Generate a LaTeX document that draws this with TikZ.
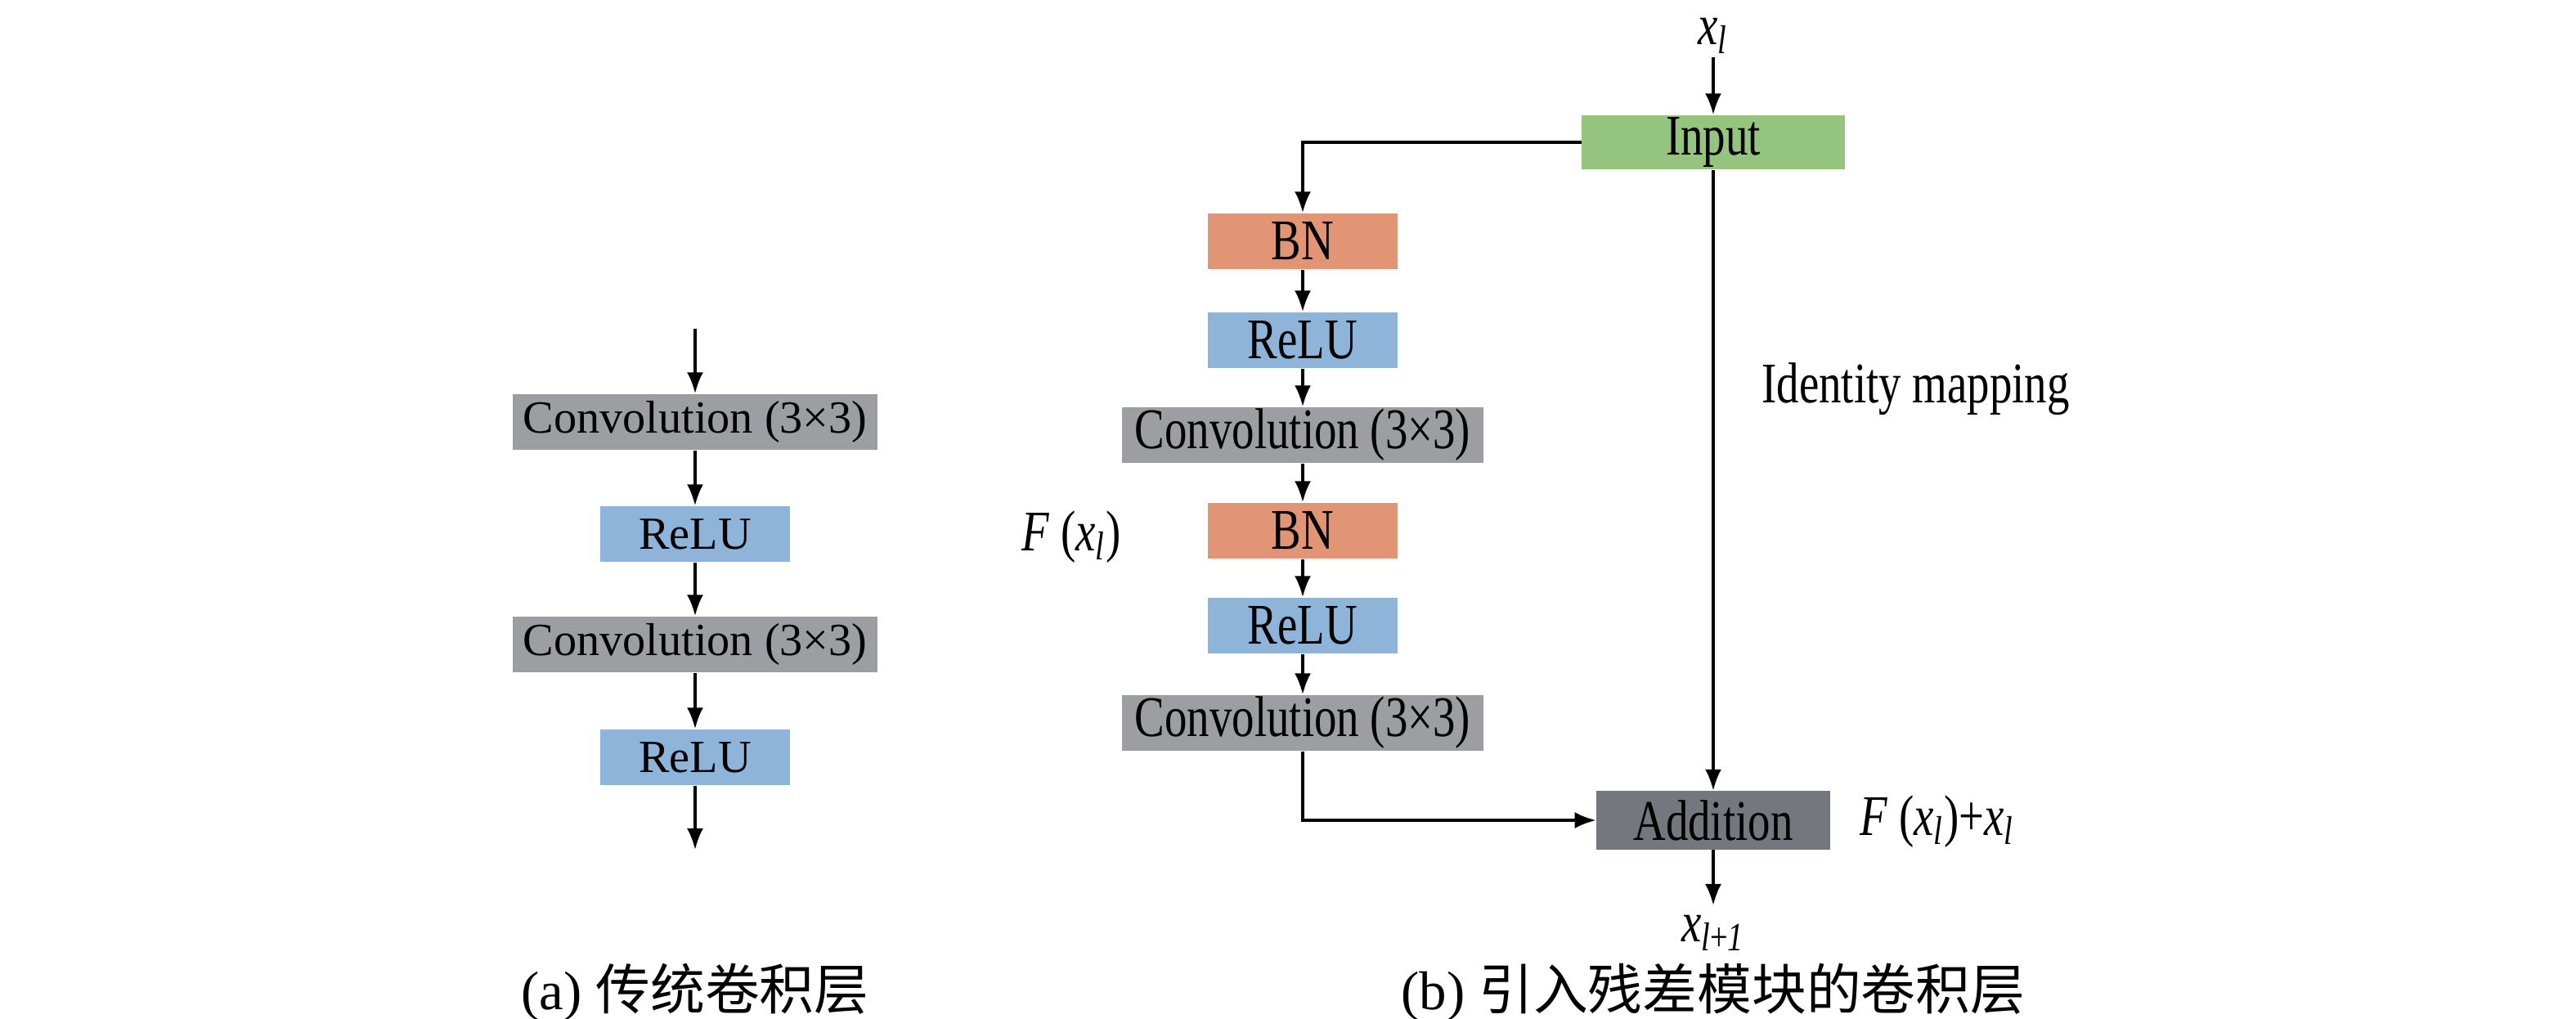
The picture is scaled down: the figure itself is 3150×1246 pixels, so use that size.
\documentclass[tikz,border=0pt]{standalone}
\usepackage{fontspec}
\setmainfont{Liberation Serif}
\newfontfamily\narrowserif[FakeStretch=0.78]{Liberation Serif}
\newfontfamily\cjkfont{Noto Sans CJK SC}
\usetikzlibrary{arrows.meta}
\definecolor{convgray}{HTML}{9D9EA2}
\definecolor{relublue}{HTML}{8FB4D9}
\definecolor{bnorange}{HTML}{E29575}
\definecolor{inputgreen}{HTML}{94C47D}
\definecolor{addgray}{HTML}{74777E}
\tikzset{
  layer/.style={fill=#1, inner sep=0pt, minimum height=0.68cm},
  wide/.style={minimum width=4.45cm},
  narrow/.style={minimum width=2.31cm},
  flow/.style={line width=1pt, -{Latex[length=2.6mm, width=2mm]}},
  plain/.style={font=\fontsize{16}{19}\selectfont},
  lbl/.style={font=\fontsize{20}{24}\selectfont\narrowserif}
}
\begin{document}
\begin{tikzpicture}[x=0.01cm, y=-0.01cm]
\useasboundingbox (0,0) rectangle (3150,1246);

% (a) plain stack
\coordinate (ain) at (850,402);
\coordinate (aout) at (850,1039);
\node[layer=convgray, wide, plain] (aconva) at (850,516) {Convolution (3×3)};
\node[layer=relublue, narrow, plain] (arelua) at (850,653) {ReLU};
\node[layer=convgray, wide, plain] (aconvb) at (850,788) {Convolution (3×3)};
\node[layer=relublue, narrow, plain] (arelub) at (850,926) {ReLU};

\draw[flow] (ain) -- (aconva);
\draw[flow] (aconva) -- (arelua);
\draw[flow] (arelua) -- (aconvb);
\draw[flow] (aconvb) -- (arelub);
\draw[flow] (arelub) -- (aout);

\node[font=\fontsize{19}{23}\selectfont] (capa) at (850,1213) {(a) {\cjkfont 传统卷积层}};

% (b) residual block
\node[lbl, inner sep=1pt] (xl) at (2095,44) {\textit{x}\textsubscript{\textit{l}}};
\node[layer=inputgreen, minimum width=3.21cm, minimum height=0.66cm, lbl] (input) at (2095,174) {Input};
\node[layer=bnorange, narrow, lbl] (bna) at (1593,295) {BN};
\node[layer=relublue, narrow, lbl] (relua) at (1593,416) {ReLU};
\node[layer=convgray, minimum width=4.42cm, lbl] (conva) at (1593,532) {Convolution (3×3)};
\node[layer=bnorange, narrow, lbl] (bnb) at (1593,649) {BN};
\node[layer=relublue, narrow, lbl] (relub) at (1593,765) {ReLU};
\node[layer=convgray, minimum width=4.42cm, lbl] (convb) at (1593,884) {Convolution (3×3)};
\node[layer=addgray, minimum width=2.85cm, minimum height=0.71cm, lbl] (add) at (2095,1003) {Addition};
\node[lbl] (xnext) at (2095,1141) {\textit{x}\textsubscript{\textit{l}+\textit{1}}};

\node[lbl, anchor=west] (ident) at (2142,476) {Identity mapping};
\node[lbl] (fx) at (1310,657) {\textit{F} (\textit{x}\textsubscript{\textit{l}})};
\node[lbl, anchor=west] (fsum) at (2262,1005) {\textit{F} (\textit{x}\textsubscript{\textit{l}})+\textit{x}\textsubscript{\textit{l}}};

\draw[flow] (xl) -- (input);
\draw[flow] (input.west) -| (bna);
\draw[flow] (bna) -- (relua);
\draw[flow] (relua) -- (conva);
\draw[flow] (conva) -- (bnb);
\draw[flow] (bnb) -- (relub);
\draw[flow] (relub) -- (convb);
\draw[flow] (convb) |- (add);
\draw[flow] (input) -- (add);
\draw[flow] (add) -- (xnext);

\node[font=\fontsize{19}{23}\selectfont] (capb) at (2095,1213) {(b) {\cjkfont 引入残差模块的卷积层}};
\end{tikzpicture}
\end{document}
